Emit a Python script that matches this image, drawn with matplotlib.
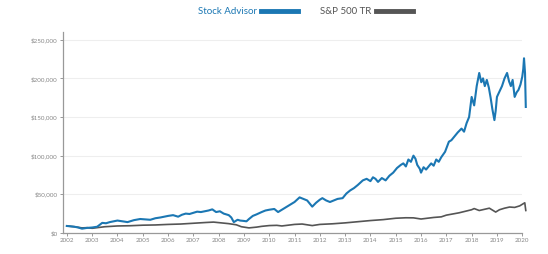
import matplotlib
matplotlib.use('Agg')
import matplotlib.pyplot as plt
from matplotlib.lines import Line2D
from matplotlib.ticker import FuncFormatter

plt.rcParams['font.family'] = ['Lato', 'DejaVu Sans']

# Stock Advisor, valores (año decimal, dólares)
sa_years = [2002.0, 2002.15, 2002.3, 2002.45, 2002.6, 2002.8, 2003.0, 2003.2, 2003.4,
            2003.55, 2003.7, 2003.85, 2004.0, 2004.2, 2004.4, 2004.65, 2004.9, 2005.1,
            2005.3, 2005.5, 2005.7, 2005.85, 2006.0, 2006.2, 2006.4, 2006.55, 2006.7,
            2006.85, 2007.0, 2007.15, 2007.3, 2007.45, 2007.6, 2007.75, 2007.9, 2008.05,
            2008.2, 2008.4, 2008.5, 2008.6, 2008.75, 2008.85, 2009.0, 2009.1, 2009.2,
            2009.35, 2009.5, 2009.7, 2009.85, 2010.0, 2010.2, 2010.35, 2010.45, 2010.6,
            2010.8, 2011.0, 2011.2, 2011.35, 2011.5, 2011.6, 2011.7, 2011.85, 2012.0,
            2012.1, 2012.25, 2012.4, 2012.55, 2012.7, 2012.9, 2013.05, 2013.2, 2013.35,
            2013.5, 2013.6, 2013.7, 2013.85, 2014.0, 2014.1, 2014.2, 2014.3, 2014.45,
            2014.6, 2014.75, 2014.9, 2015.05, 2015.2, 2015.3, 2015.4, 2015.5, 2015.6,
            2015.7, 2015.78, 2015.85, 2015.95, 2016.0, 2016.1, 2016.2, 2016.3, 2016.4,
            2016.5, 2016.6, 2016.7, 2016.8, 2016.95, 2017.1, 2017.2, 2017.3, 2017.45,
            2017.6, 2017.7, 2017.8, 2017.9, 2018.0, 2018.1, 2018.2, 2018.3, 2018.38,
            2018.45, 2018.52, 2018.6, 2018.68, 2018.75, 2018.82, 2018.9, 2018.95, 2019.0,
            2019.1, 2019.2, 2019.3, 2019.4, 2019.48, 2019.55, 2019.62, 2019.7, 2019.78,
            2019.85, 2019.93, 2020.0, 2020.04, 2020.07, 2020.11, 2020.14]
sa_values = [9000, 8500, 8000, 7000, 5500, 6500, 7000, 8000, 13000,
             12500, 14000, 15000, 16000, 15000, 14000, 16500, 18000, 17500,
             17000, 19000, 20000, 21000, 22000, 23000, 21000, 23500, 25000,
             24500, 26000, 27500, 27000, 28000, 29000, 30500, 27000, 28000,
             25000, 23000, 20000, 14000, 17000, 16000, 15500, 15000, 18000,
             22000, 24000, 27000, 29000, 30000, 31000, 27000, 29000, 32000,
             36000, 40000, 46000, 44000, 42000, 38000, 34000, 39000, 43000,
             45000, 42000, 40000, 42000, 44000, 45000, 51000, 55000, 58000,
             62000, 65000, 68000, 70000, 67000, 72000, 70000, 66000, 71000,
             68000, 74000, 78000, 84000, 88000, 90000, 86000, 95000, 92000,
             100000, 96000, 88000, 83000, 78000, 85000, 82000, 86000, 90000,
             87000, 95000, 92000, 98000, 105000, 118000, 120000, 124000, 130000,
             135000, 131000, 142000, 150000, 176000, 165000, 190000, 207000, 195000,
             200000, 190000, 198000, 188000, 175000, 160000, 146000, 158000, 176000,
             183000, 190000, 200000, 207000, 196000, 190000, 198000, 176000, 182000,
             185000, 192000, 202000, 212000, 226000, 207000, 163000]

# S&P 500 TR
sp_years = [2002.0, 2002.3, 2002.6, 2002.8, 2003.0, 2003.5, 2004.0, 2004.5, 2005.0,
            2005.5, 2006.0, 2006.5, 2007.0, 2007.5, 2007.8, 2008.1, 2008.4, 2008.7,
            2008.9, 2009.2, 2009.5, 2009.7, 2010.0, 2010.3, 2010.5, 2010.8, 2011.0,
            2011.3, 2011.7, 2012.0, 2012.5, 2013.0, 2013.5, 2014.0, 2014.5, 2015.0,
            2015.4, 2015.7, 2016.0, 2016.3, 2016.5, 2016.8, 2017.0, 2017.5, 2018.0,
            2018.1, 2018.3, 2018.7, 2018.95, 2019.1, 2019.3, 2019.5, 2019.7, 2019.9,
            2020.0, 2020.1, 2020.14]
sp_values = [9000, 8000, 6500, 6800, 6000, 8000, 9000, 9300, 10000,
             10300, 11000, 11500, 12500, 13500, 14000, 13000, 12000, 10500,
             8000, 6500, 7500, 8500, 9500, 9800, 9000, 10200, 11000,
             11500, 9500, 11000, 11800, 13000, 14500, 16000, 17200, 19000,
             19600, 19500, 18000, 19200, 20000, 20800, 23000, 26000, 30000,
             31500, 29000, 32000, 27000, 30000, 32000, 33500, 33000, 35000,
             37000, 39000, 29000]

year_ticks = list(range(2002, 2021))
value_ticks = [0, 50000, 100000, 150000, 200000, 250000]

azul = '#1b77b3'
gris = '#555555'

fig = plt.figure(figsize=(5.48, 2.54), dpi=100)
ax = fig.add_axes([0.115, 0.083, 0.838, 0.791])

ax.plot(sp_years, sp_values, color=gris, lw=1.2, clip_on=False)
ax.plot(sa_years, sa_values, color=azul, lw=1.5, clip_on=False)

ax.set_xlim(2001.85, 2020.0)
ax.set_ylim(0, 260000)
ax.set_xticks(year_ticks)
ax.set_yticks(value_ticks)
ax.yaxis.set_major_formatter(FuncFormatter(lambda v, p: '${:,.0f}'.format(v)))
ax.tick_params(labelsize=4.5, colors='#888888', length=2, width=0.6, pad=2)
ax.grid(True, axis='y', color='#eeeeee', lw=0.8)
ax.set_axisbelow(True)
for s in ['top', 'right']:
    ax.spines[s].set_visible(False)
for s in ['left', 'bottom']:
    ax.spines[s].set_color('#999999')
    ax.spines[s].set_linewidth(0.9)

handles = [Line2D([], [], color=azul, lw=3.5), Line2D([], [], color=gris, lw=3.5)]
fig.legend(handles, ['Stock Advisor', 'S&P 500 TR'], loc='center',
           bbox_to_anchor=(0.557, 0.955), ncol=2, frameon=False,
           markerfirst=False, fontsize=7, labelcolor=[azul, gris],
           handlelength=3.8, handletextpad=0.5, columnspacing=2.2)

fig.savefig('out.png', dpi=100)
